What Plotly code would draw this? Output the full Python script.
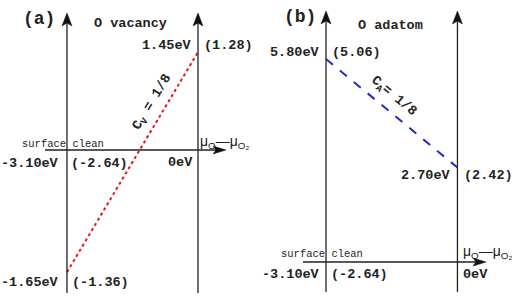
import plotly.graph_objects as go

# Data (chemical potential endpoints, eV) and formation energies
mu_range = [-3.10, 0.0]
vacancy_E = [-1.65, 1.45]
vacancy_E_alt = ["(-1.36)", "(1.28)"]
adatom_E = [5.80, 2.70]
adatom_E_alt = ["(5.06)", "(2.42)"]
clean_label = ["-3.10eV", "(-2.64)", "0eV"]

W, H = 516, 300
fig = go.Figure()

fig.add_trace(go.Scatter(x=mu_range, y=vacancy_E, mode="lines",
                         line=dict(color="#e8141c", width=2, dash="dot"),
                         xaxis="x", yaxis="y", showlegend=False, hoverinfo="skip"))
fig.add_trace(go.Scatter(x=mu_range, y=adatom_E, mode="lines",
                         line=dict(color="#2626d0", width=2, dash="dash"),
                         xaxis="x2", yaxis="y2", showlegend=False, hoverinfo="skip"))

def px(x): return x / W
def py(y): return 1 - y / H

anns = []
shapes = []
MONO = "Liberation Mono"

# pixel positions of the vertical axes (from data mapping)
XA = {"x": (-4.685, 1.42, 0, 258), "x2": (-4.704, 1.381, 258, 516)}
def data_to_px(xref, v):
    lo, hi, p0, p1 = XA[xref]
    return p0 + (v - lo) / (hi - lo) * (p1 - p0)

def txt(text, x, y, xa="center", size=13.5, bold=True, angle=0, family=MONO, color="#222"):
    t = f"<b>{text}</b>" if bold else text
    anns.append(dict(text=t, x=px(x), y=py(y), xref="paper", yref="paper",
                     xanchor=xa, yanchor="middle", showarrow=False, textangle=angle,
                     font=dict(family=family, size=size, color=color)))

def tri(points):
    d = "M " + " L ".join(f"{px(a):.5f},{py(b):.5f}" for a, b in points) + " Z"
    shapes.append(dict(type="path", xref="paper", yref="paper", path=d,
                       fillcolor="#111", line=dict(color="#111", width=0.5)))

def vline(xref, xval, ytop, ybot):
    shapes.append(dict(type="line", xref=xref, yref="paper", x0=xval, x1=xval,
                       y0=py(ybot), y1=py(ytop + 6), line=dict(color="#222", width=1.3)))
    xp = data_to_px(xref, xval)
    tri([(xp, ytop), (xp - 5, ytop + 13), (xp, ytop + 10), (xp + 5, ytop + 13)])

def hline(x0, x1, yv):
    shapes.append(dict(type="line", xref="paper", yref="paper", x0=px(x0), x1=px(x1 - 6),
                       y0=py(yv), y1=py(yv), line=dict(color="#222", width=1.3)))
    tri([(x1, yv), (x1 - 13, yv - 4), (x1 - 10, yv), (x1 - 13, yv + 4)])

# Panel (a)
vline("x", mu_range[0], 13, 293)
vline("x", mu_range[1], 13, 293)
hline(45, 226, 150)
txt("(a)", 39, 19, size=18)
txt("O vacancy", 130, 23)
txt(f"{vacancy_E[1]:.2f}eV", 194, 45, xa="right")
txt(vacancy_E_alt[1], 202, 45, xa="left")
txt("surface clean", 63, 144, size=10.5, bold=False)
txt("μ<sub>O</sub>—μ<sub>O₂</sub>", 224, 142, size=14, bold=False, family="Liberation Sans")
txt(clean_label[0], 61, 163, xa="right")
txt(clean_label[1], 69, 163, xa="left")
txt(clean_label[2], 195, 162, xa="right")
txt(f"{vacancy_E[0]:.2f}eV", 61, 282, xa="right")
txt(vacancy_E_alt[0], 70, 282, xa="left")
txt("C<sub>V</sub> = 1/8", 153, 103, angle=-59)

# Panel (b)
vline("x2", mu_range[0], 11, 292)
vline("x2", mu_range[1], 11, 292)
hline(303, 486, 262)
txt("(b)", 300, 17, size=18)
txt("O adatom", 390, 25)
txt(f"{adatom_E[0]:.2f}eV", 322, 52, xa="right")
txt(adatom_E_alt[0], 330, 52, xa="left")
txt(f"{adatom_E[1]:.2f}eV", 453, 175, xa="right")
txt(adatom_E_alt[1], 462, 175, xa="left")
txt("surface clean", 322, 254, size=10.5, bold=False)
txt("μ<sub>O</sub>—μ<sub>O₂</sub>", 487, 252, size=14, bold=False, family="Liberation Sans")
txt(clean_label[0], 322, 274, xa="right")
txt(clean_label[1], 329, 274, xa="left")
txt(clean_label[2], 461, 274, xa="left")
txt("C<sub>A</sub>= 1/8", 393, 97, angle=39.5)

hidden = dict(visible=False, showgrid=False, zeroline=False, fixedrange=True)
fig.update_layout(
    width=W, height=H, margin=dict(l=0, r=0, t=0, b=0),
    paper_bgcolor="white", plot_bgcolor="white",
    xaxis=dict(domain=[0, 0.5], range=[-4.685, 1.42], **hidden),
    yaxis=dict(domain=[0, 1], range=[-2.042, 2.183], **hidden),
    xaxis2=dict(domain=[0.5, 1], range=[-4.704, 1.381], anchor="y2", **hidden),
    yaxis2=dict(domain=[0, 1], range=[-1.086, 7.486], anchor="x2", **hidden),
    annotations=anns, shapes=shapes,
)

fig.write_html("out.html")
